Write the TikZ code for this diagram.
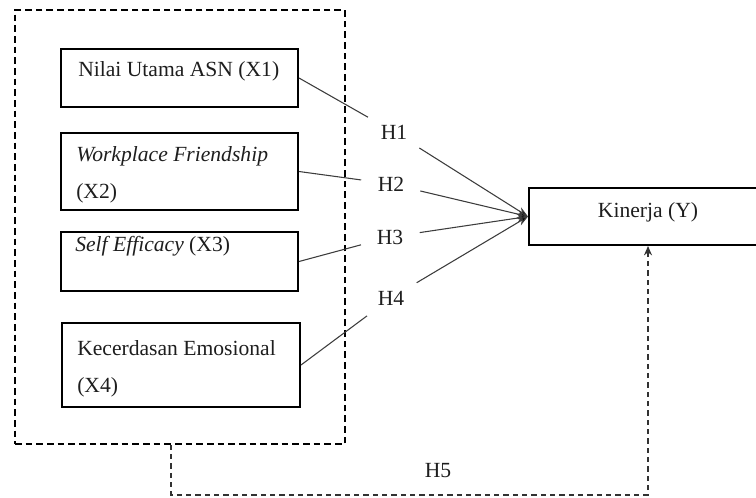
\documentclass[tikz,border=0pt]{standalone}
\usepackage{fontspec}
\setmainfont{Liberation Serif}
\usetikzlibrary{arrows.meta}

\begin{document}
\begin{tikzpicture}[x=0.75pt,y=0.75pt,yscale=-1,xscale=1,
  varbox/.style={draw,line width=1.5pt,inner sep=0pt},
  vartext/.style={anchor=west,inner sep=0.75pt,align=left,text={rgb,255:red,30;green,30;blue,30},font=\fontsize{16.2}{28}\selectfont},
  hyp/.style={circle,inner sep=8pt,text={rgb,255:red,30;green,30;blue,30},font=\fontsize{16.2}{18}\selectfont},
  hypline/.style={draw={rgb,255:red,60;green,60;blue,60},line width=0.8pt},
  hyparrow/.style={hypline,-{Stealth[length=8pt,width=6pt,fill=black]}},
  frameline/.style={draw,line width=1.2pt,dash pattern=on 5pt off 3pt},
  simline/.style={draw={rgb,255:red,50;green,50;blue,50},line width=1.2pt,dash pattern=on 4pt off 3pt,-{Stealth[length=7pt,width=6pt]}}
]
\useasboundingbox (0,0) rectangle (756,497);
\clip (0,0) rectangle (756,497);

%Shape: Dashed frame round X1..X4
\node[frameline,minimum width=247.5pt,minimum height=325.5pt] (frame) at (180,227) {};

%Shape: Rectangle X1
\node[varbox,minimum width=177.75pt,minimum height=43.5pt] (x1) at (179.5,78) {};
%Shape: Rectangle X2
\node[varbox,minimum width=177.75pt,minimum height=57.75pt] (x2) at (179.5,171.5) {};
%Shape: Rectangle X3
\node[varbox,minimum width=177.75pt,minimum height=44.25pt] (x3) at (179.5,261.5) {};
%Shape: Rectangle X4
\node[varbox,minimum width=178.5pt,minimum height=63pt] (x4) at (181,365) {};
%Shape: Rectangle Y
\node[varbox,minimum width=178.5pt,minimum height=42.75pt] (kinerja) at (648,216.5) {};

% Text Node
\node[vartext] (t1) at (77,71) {Nilai Utama ASN (X1)};
% Text Node
\node[vartext] (t2) at (75,175) {\textit{Workplace Friendship}\\(X2)};
% Text Node
\node[vartext] (t3) at (74,246) {\textit{Self Efficacy} (X3)};
% Text Node
\node[vartext] (t4) at (76,369) {Kecerdasan Emosional\\(X4)};
% Text Node
\node[vartext,anchor=center] (ty) at (648,212) {Kinerja (Y)};

% Hypothesis labels
\node[hyp] (h1) at (394,132) {H1};
\node[hyp] (h2) at (391,184) {H2};
\node[hyp] (h3) at (390,237) {H3};
\node[hyp] (h4) at (391,298) {H4};
\node[hyp] (h5) at (438,471) {H5};

%Straight Lines
\draw[hypline] (x1.east) -- (h1);
\draw[hypline] (x2.east) -- (h2);
\draw[hypline] (x3.east) -- (h3);
\draw[hypline] (x4.east) -- (h4);
\draw[hyparrow] (h1) -- (kinerja.west);
\draw[hyparrow] (h2) -- (kinerja.west);
\draw[hyparrow] (h3) -- (kinerja.west);
\draw[hyparrow] (h4) -- (kinerja.west);

%Dashed line H5
\coordinate (h5base) at (0,495);
\draw[simline] ([xshift=-6.75pt]frame.south) |- (kinerja.south |- h5base) -- (kinerja.south);

\end{tikzpicture}
\end{document}
